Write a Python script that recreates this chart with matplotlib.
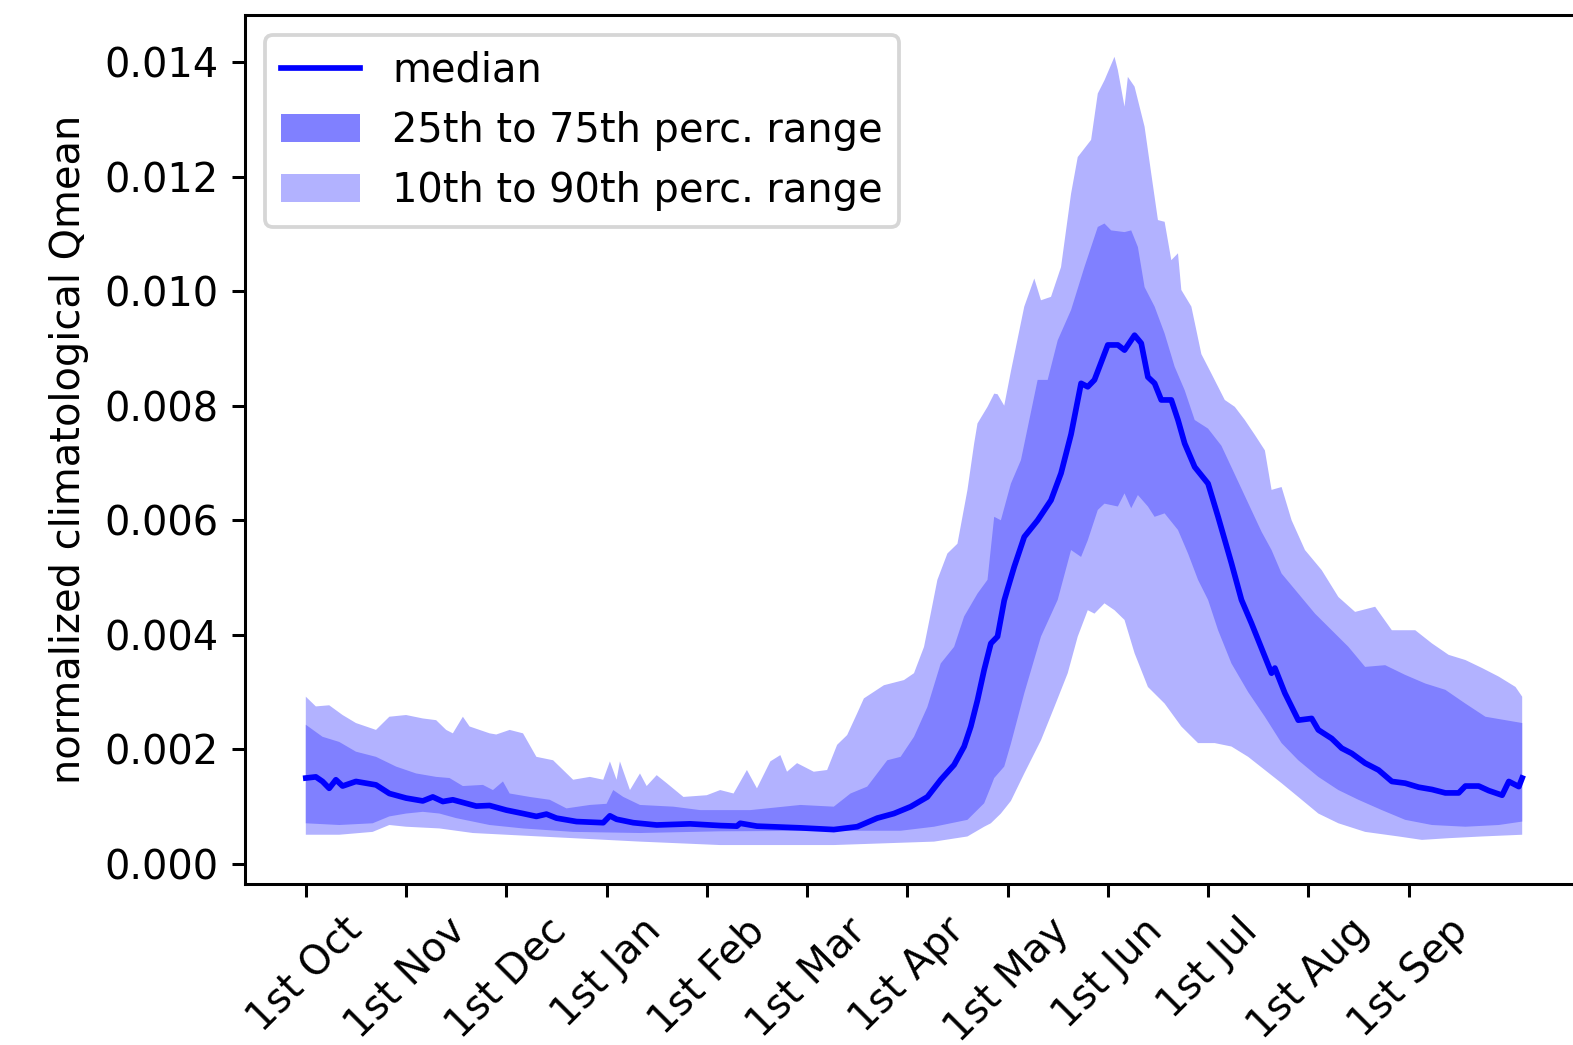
import matplotlib
matplotlib.use("Agg")
import matplotlib.pyplot as plt
from matplotlib.lines import Line2D
from matplotlib.patches import Patch
import numpy as np

# day of the hydrological year (0 = 1st Oct) and values
med_day = [0, 3, 5, 7, 9, 11, 15, 21, 25, 30, 35, 38, 41, 44, 51, 55, 60, 65, 69, 72,
           75, 81, 89, 91, 93, 98, 105, 115, 124, 129, 130, 135, 148, 158, 165, 171, 176,
           181, 186, 190, 194, 197, 199, 201, 203, 205, 207, 209, 210, 212, 215, 219, 223,
           226, 229, 232, 234, 236, 240, 243, 245, 248, 250, 252, 254, 256, 259, 261, 263,
           266, 270, 273, 277, 280, 283, 287, 289, 290, 293, 297, 301, 303, 307, 310, 313,
           317, 321, 325, 329, 333, 337, 341, 345, 347, 351, 354, 358, 360, 363, 364]
med_val = [0.00150, 0.00152, 0.00144, 0.00132, 0.00147, 0.00136, 0.00144, 0.00138, 0.00123,
           0.00115, 0.00110, 0.00117, 0.00109, 0.00112, 0.00101, 0.00102, 0.00094, 0.00088,
           0.00083, 0.00087, 0.00080, 0.00074, 0.00072, 0.00084, 0.00078, 0.00072, 0.00068,
           0.00070, 0.00067, 0.00066, 0.00071, 0.00066, 0.00063, 0.00060, 0.00065, 0.00080,
           0.00088, 0.00100, 0.00117, 0.00147, 0.00173, 0.00205, 0.00240, 0.00286, 0.00339,
           0.00385, 0.00397, 0.00460, 0.00480, 0.00519, 0.00571, 0.00600, 0.00635, 0.00682,
           0.00750, 0.00839, 0.00833, 0.00845, 0.00906, 0.00906, 0.00897, 0.00923, 0.00909,
           0.00850, 0.00839, 0.00810, 0.00810, 0.00775, 0.00734, 0.00693, 0.00664, 0.00606,
           0.00525, 0.00461, 0.00420, 0.00362, 0.00333, 0.00342, 0.00298, 0.00251, 0.00254,
           0.00234, 0.00219, 0.00202, 0.00193, 0.00176, 0.00164, 0.00144, 0.00141, 0.00134,
           0.00130, 0.00124, 0.00124, 0.00136, 0.00136, 0.00128, 0.00120, 0.00144, 0.00135,
           0.00150]

q75_day = [0, 5, 10, 15, 21, 27, 33, 36, 39, 43, 47, 53, 56, 59, 61, 67, 73, 78, 85, 90,
           92, 95, 100, 110, 118, 123, 133, 148, 158, 163, 168, 174, 178, 182, 186, 190, 194,
           197, 201, 204, 206, 208, 211, 214, 219, 222, 225, 229, 233, 237, 239, 241, 245,
           247, 249, 251, 254, 257, 260, 263, 266, 270, 274, 278, 282, 286, 289, 292, 297,
           302, 307, 312, 317, 323, 329, 335, 341, 347, 353, 359, 364]
q75_val = [0.00243, 0.00222, 0.00213, 0.00196, 0.00187, 0.00170, 0.00158, 0.00155, 0.00152,
           0.00150, 0.00136, 0.00138, 0.00129, 0.00144, 0.00123, 0.00117, 0.00112, 0.00097,
           0.00103, 0.00105, 0.00129, 0.00117, 0.00103, 0.00100, 0.00094, 0.00094, 0.00094,
           0.00103, 0.00100, 0.00123, 0.00135, 0.00181, 0.00187, 0.00222, 0.00274, 0.00350,
           0.00379, 0.00432, 0.00472, 0.00496, 0.00606, 0.00600, 0.00664, 0.00705, 0.00845,
           0.00845, 0.00914, 0.00967, 0.01042, 0.01112, 0.01118, 0.01106, 0.01103, 0.01106,
           0.01077, 0.01007, 0.00973, 0.00926, 0.00868, 0.00827, 0.00775, 0.00760, 0.00730,
           0.00680, 0.00630, 0.00580, 0.00548, 0.00507, 0.00472, 0.00437, 0.00408, 0.00379,
           0.00344, 0.00347, 0.00330, 0.00315, 0.00304, 0.00280, 0.00257, 0.00251, 0.00246]

q25_day = [0, 10, 20, 25, 30, 35, 40, 45, 55, 65, 80, 100, 124, 158, 178, 188, 198, 203,
           205, 206, 209, 211, 215, 220, 225, 229, 232, 234, 237, 239, 243, 245, 247, 249,
           252, 254, 257, 261, 264, 267, 270, 273, 277, 282, 287, 292, 297, 303, 309, 315,
           322, 329, 337, 347, 357, 364]
q25_val = [0.00071, 0.00068, 0.00071, 0.00083, 0.00088, 0.00091, 0.00088, 0.00080, 0.00068,
           0.00062, 0.00056, 0.00054, 0.00057, 0.00058, 0.00058, 0.00065, 0.00077, 0.00106,
           0.00135, 0.00150, 0.00170, 0.00210, 0.00298, 0.00397, 0.00461, 0.00548, 0.00536,
           0.00565, 0.00618, 0.00629, 0.00624, 0.00647, 0.00621, 0.00644, 0.00624, 0.00606,
           0.00612, 0.00583, 0.00542, 0.00496, 0.00461, 0.00408, 0.00350, 0.00300, 0.00257,
           0.00211, 0.00181, 0.00152, 0.00129, 0.00112, 0.00094, 0.00077, 0.00068, 0.00065,
           0.00068, 0.00074]

q90_day = [0, 3, 7, 11, 15, 21, 25, 30, 35, 39, 42, 44, 47, 49, 55, 57, 61, 65, 69, 74,
           80, 85, 89, 91, 93, 94, 97, 100, 102, 105, 108, 113, 120, 124, 128, 132, 135, 139,
           142, 144, 147, 152, 156, 159, 162, 165, 167, 173, 179, 182, 185, 187, 189, 192,
           195, 198, 200, 201, 204, 206, 207, 209, 211, 215, 218, 220, 223, 226, 229, 231,
           233, 235, 237, 239, 242, 243, 245, 246, 248, 251, 253, 255, 257, 259, 261, 262,
           265, 268, 271, 275, 278, 281, 284, 287, 289, 292, 295, 299, 304, 309, 314, 320,
           325, 332, 337, 342, 347, 352, 357, 362, 364]
q90_val = [0.00292, 0.00275, 0.00277, 0.00260, 0.00246, 0.00234, 0.00257, 0.00260, 0.00254,
           0.00251, 0.00234, 0.00228, 0.00257, 0.00240, 0.00228, 0.00226, 0.00234, 0.00228,
           0.00187, 0.00181, 0.00147, 0.00152, 0.00147, 0.00179, 0.00147, 0.00179, 0.00129,
           0.00158, 0.00136, 0.00155, 0.00141, 0.00117, 0.00120, 0.00129, 0.00123, 0.00164,
           0.00132, 0.00179, 0.00190, 0.00161, 0.00176, 0.00161, 0.00164, 0.00208, 0.00225,
           0.00263, 0.00289, 0.00312, 0.00321, 0.00333, 0.00379, 0.00437, 0.00496, 0.00542,
           0.00559, 0.00653, 0.00734, 0.00769, 0.00798, 0.00821, 0.00820, 0.00800, 0.00860,
           0.00973, 0.01022, 0.00984, 0.00990, 0.01042, 0.01170, 0.01234, 0.01249, 0.01264,
           0.01345, 0.01368, 0.01409, 0.01386, 0.01322, 0.01374, 0.01357, 0.01287, 0.01205,
           0.01124, 0.01121, 0.01054, 0.01066, 0.01002, 0.00973, 0.00890, 0.00856, 0.00810,
           0.00798, 0.00775, 0.00749, 0.00722, 0.00653, 0.00658, 0.00600, 0.00548, 0.00513,
           0.00466, 0.00440, 0.00449, 0.00408, 0.00408, 0.00385, 0.00365, 0.00356, 0.00342,
           0.00327, 0.00309, 0.00292]

q10_day = [0, 10, 20, 25, 30, 40, 50, 60, 80, 100, 124, 158, 188, 198, 203, 205, 208, 211,
           215, 220, 224, 228, 231, 234, 236, 239, 242, 245, 248, 252, 257, 262, 267, 272,
           277, 282, 287, 292, 297, 303, 309, 317, 327, 334, 342, 352, 364]
q10_val = [0.00051, 0.00051, 0.00056, 0.00068, 0.00065, 0.00062, 0.00054, 0.00051, 0.00045,
           0.00039, 0.00033, 0.00033, 0.00039, 0.00048, 0.00065, 0.00071, 0.00088, 0.00110,
           0.00158, 0.00216, 0.00274, 0.00333, 0.00397, 0.00443, 0.00437, 0.00455, 0.00443,
           0.00426, 0.00368, 0.00309, 0.00280, 0.00240, 0.00211, 0.00211, 0.00205, 0.00187,
           0.00164, 0.00141, 0.00117, 0.00088, 0.00071, 0.00056, 0.00048, 0.00042, 0.00045,
           0.00048, 0.00051]

tick_days = [0, 30, 60, 90, 120, 150, 180, 210, 240, 270, 300, 330]
tick_labels = ['1st Oct', '1st Nov', '1st Dec', '1st Jan', '1st Feb', '1st Mar',
               '1st Apr', '1st May', '1st Jun', '1st Jul', '1st Aug', '1st Sep']

c_light = '#b2b2ff'
c_mid = '#8080ff'

plt.rcParams['font.size'] = 10.5

dpi = 273
fig = plt.figure(figsize=(1573 / dpi, 1045 / dpi), dpi=dpi)
ax = fig.add_axes([245 / 1573, 1 - 884 / 1045, (1583 - 245) / 1573, (884 - 15) / 1045])

# outer band, then inner band, then the median on top
ax.fill(np.r_[q90_day, q10_day[::-1]], np.r_[q90_val, q10_val[::-1]],
        color=c_light, lw=0)
ax.fill(np.r_[q75_day, q25_day[::-1]], np.r_[q75_val, q25_val[::-1]],
        color=c_mid, lw=0)
ax.plot(med_day, med_val, color='blue', lw=1.5)

ax.set_xlim(-18.2, 382.2)
ax.set_ylim(-0.00035, 0.01482)
ax.set_xticks(tick_days)
ax.set_xticklabels(tick_labels, rotation=45)
ax.set_ylabel('normalized climatological Qmean')

handles = [Line2D([], [], color='blue', lw=1.5),
           Patch(color=c_mid, lw=0),
           Patch(color=c_light, lw=0)]
ax.legend(handles, ['median', '25th to 75th perc. range', '10th to 90th perc. range'],
          loc='upper left')

fig.savefig('out.png', dpi=dpi)
